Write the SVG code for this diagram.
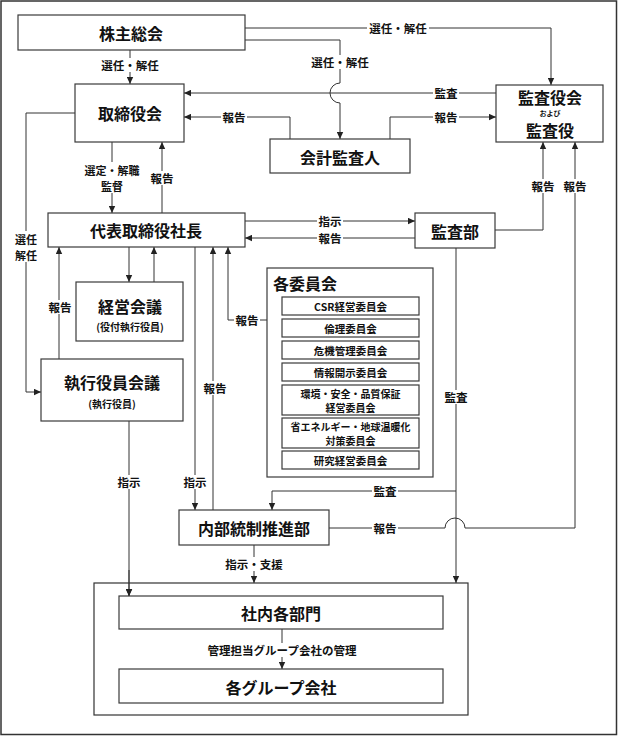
<svg xmlns="http://www.w3.org/2000/svg" width="618" height="736" viewBox="0 0 618 736">
<defs>
<marker id="ah" viewBox="0 0 7 7" refX="7" refY="3.5" markerWidth="7" markerHeight="7" markerUnits="userSpaceOnUse" orient="auto"><path d="M0,0.3 L7,3.5 L0,6.7 z" fill="#222"/></marker>
<style>
.box{fill:#fff;stroke:#3a3a3a;stroke-width:1.2}
.ln{fill:none;stroke:#333;stroke-width:1}
.arr{marker-end:url(#ah)}
.bg{fill:#fff}
text{font-family:"Noto Sans CJK JP","Noto Sans CJK SC",sans-serif;fill:#111;text-anchor:middle;dominant-baseline:central}
.t16{font-size:16px;font-weight:700}
.t10{font-size:10px;font-weight:700}
.t105{font-size:10.5px;font-weight:700}
.t2l{font-size:10px;font-weight:700}
.lb{font-size:11.5px;font-weight:700}
.lb2{font-size:11px;font-weight:700}
.t7{font-size:7px;font-weight:700}
</style>
</defs>
<rect x="1" y="1" width="615.5" height="733.5" fill="#fff" stroke="#333" stroke-width="1.5"/>

<g id="connectors">
<path class="ln arr" d="M245,28 H551 V85"/>
<path class="ln arr" d="M245,40 H340 V83 A10,10 0 0 0 340,103 V139"/>
<path class="ln arr" d="M130,50 V84"/>
<path class="ln arr" d="M496,93 H184"/>
<path class="ln arr" d="M290,139 V117 H184"/>
<path class="ln arr" d="M390,139 V117 H496"/>
<path class="ln arr" d="M112,142 V213"/>
<path class="ln arr" d="M162,213 V142"/>
<path class="ln arr" d="M75,113 H26 V392 H41"/>
<path class="ln arr" d="M245,221 H415"/>
<path class="ln arr" d="M415,238 H245"/>
<path class="ln arr" d="M495,230 H543 V142"/>
<path class="ln arr" d="M329,528 H445 A10,10 0 0 1 465,528 H575 V142"/>
<path class="ln arr" d="M456,248 V583"/>
<path class="ln arr" d="M456,491 H272 V510"/>
<path class="ln arr" d="M129,247 V282"/>
<path class="ln arr" d="M154,282 V247"/>
<path class="ln arr" d="M59,359 V247"/>
<path class="ln arr" d="M195,247 V510"/>
<path class="ln arr" d="M213,510 V247"/>
<path class="ln arr" d="M267,320 H228 V247"/>
<path class="ln arr" d="M129,421 V596"/>
<path class="ln arr" d="M254,545 V583"/>
<path class="ln arr" d="M282,629 V669"/>

<rect class="bg" x="367" y="21" width="62" height="14"/><text class="lb" x="398" y="28">選任・解任</text>
<rect class="bg" x="309" y="55" width="62" height="14"/><text class="lb" x="340" y="62">選任・解任</text>
<rect class="bg" x="99" y="58" width="62" height="14"/><text class="lb" x="130" y="65">選任・解任</text>
<rect class="bg" x="433" y="86" width="26" height="14"/><text class="lb" x="446" y="93">監査</text>
<rect class="bg" x="221" y="110" width="26" height="14"/><text class="lb" x="234" y="117">報告</text>
<rect class="bg" x="433" y="110" width="26" height="14"/><text class="lb" x="446" y="117">報告</text>
<rect class="bg" x="81" y="162" width="62" height="31"/><text class="lb2" x="112" y="170">選定・解職</text><text class="lb2" x="112" y="185.5">監督</text>
<rect class="bg" x="149" y="171" width="26" height="14"/><text class="lb" x="162" y="178">報告</text>
<rect class="bg" x="13" y="231" width="26" height="31"/><text class="lb2" x="26" y="239">選任</text><text class="lb2" x="26" y="254.5">解任</text>
<rect class="bg" x="317" y="214" width="26" height="14"/><text class="lb" x="330" y="221">指示</text>
<rect class="bg" x="317" y="231" width="26" height="14"/><text class="lb" x="330" y="238">報告</text>
<rect class="bg" x="530" y="179" width="26" height="14"/><text class="lb" x="543" y="186">報告</text>
<rect class="bg" x="562" y="179" width="26" height="14"/><text class="lb" x="575" y="186">報告</text>
<rect class="bg" x="47" y="300" width="26" height="14"/><text class="lb" x="60" y="307">報告</text>
<rect class="bg" x="234" y="313" width="26" height="14"/><text class="lb" x="247" y="320">報告</text>
<rect class="bg" x="202" y="381" width="26" height="14"/><text class="lb" x="215" y="388">報告</text>
<rect class="bg" x="443" y="390" width="26" height="14"/><text class="lb" x="456" y="397">監査</text>
<rect class="bg" x="116" y="475" width="26" height="14"/><text class="lb" x="129" y="482">指示</text>
<rect class="bg" x="182" y="475" width="26" height="14"/><text class="lb" x="195" y="482">指示</text>
<rect class="bg" x="372" y="484" width="26" height="14"/><text class="lb" x="385" y="491">監査</text>
<rect class="bg" x="372" y="521" width="26" height="14"/><text class="lb" x="385" y="528">報告</text>
<rect class="bg" x="223" y="557" width="62" height="14"/><text class="lb" x="254" y="564">指示・支援</text>
<rect class="bg" x="204" y="643" width="156" height="14"/><text class="lb" x="282" y="650">管理担当グループ会社の管理</text>
</g>

<g id="kabunushi"><rect class="box" x="18" y="15" width="227" height="35"/><text class="t16" x="131" y="33">株主総会</text></g>
<g id="torishimariyakukai"><rect class="box" x="75" y="84" width="109" height="58"/><text class="t16" x="130" y="113">取締役会</text></g>
<g id="kansayakukai"><rect class="box" x="496" y="85" width="107" height="57"/><text class="t16" x="550" y="97">監査役会</text><text class="t7" x="550" y="113">および</text><text class="t16" x="550" y="130">監査役</text></g>
<g id="kaikeikansanin"><rect class="box" x="270" y="139" width="140" height="34"/><text class="t16" x="340" y="157">会計監査人</text></g>
<g id="shacho"><rect class="box" x="48" y="213" width="197" height="34"/><text class="t16" x="146" y="230">代表取締役社長</text></g>
<g id="kansabu"><rect class="box" x="415" y="213" width="80" height="35"/><text class="t16" x="455" y="231">監査部</text></g>
<g id="keieikaigi"><rect class="box" x="76" y="282" width="107" height="59"/><text class="t16" x="130" y="306">経営会議</text><text class="t10" x="130" y="326">(役付執行役員)</text></g>
<g id="shikkoyakuinkaigi"><rect class="box" x="41" y="359" width="142" height="62"/><text class="t16" x="112" y="382">執行役員会議</text><text class="t10" x="112" y="403">(執行役員)</text></g>
<g id="iinkai">
<rect class="box" x="267" y="268" width="166" height="209"/>
<text class="t16" x="273" y="283" style="text-anchor:start">各委員会</text>
<rect class="box" x="282" y="297" width="137" height="18"/><text class="t105" x="350.5" y="306">CSR経営委員会</text>
<rect class="box" x="282" y="319" width="137" height="18"/><text class="t105" x="350.5" y="328">倫理委員会</text>
<rect class="box" x="282" y="341" width="137" height="18"/><text class="t105" x="350.5" y="350">危機管理委員会</text>
<rect class="box" x="282" y="363" width="137" height="18"/><text class="t105" x="350.5" y="372">情報開示委員会</text>
<rect class="box" x="282" y="385" width="137" height="30"/><text class="t2l" x="350.5" y="393">環境・安全・品質保証</text><text class="t2l" x="350.5" y="407.5">経営委員会</text>
<rect class="box" x="282" y="418" width="137" height="30"/><text class="t2l" x="350.5" y="426">省エネルギー・地球温暖化</text><text class="t2l" x="350.5" y="440.5">対策委員会</text>
<rect class="box" x="282" y="451" width="137" height="18"/><text class="t105" x="350.5" y="460">研究経営委員会</text>
</g>
<g id="naibutosei"><rect class="box" x="179" y="510" width="150" height="35"/><text class="t16" x="254" y="528">内部統制推進部</text></g>
<g id="shanai-frame"><rect x="94" y="583" width="374" height="132" fill="none" stroke="#333" stroke-width="1.2"/></g>
<g id="shanaikakubumon"><rect class="box" x="119" y="596" width="324" height="33"/><text class="t16" x="281" y="613">社内各部門</text></g>
<g id="group"><rect class="box" x="119" y="669" width="324" height="34"/><text class="t16" x="281" y="687">各グループ会社</text></g>
<path class="ln arr" d="M129,570 V596"/>
</svg>
